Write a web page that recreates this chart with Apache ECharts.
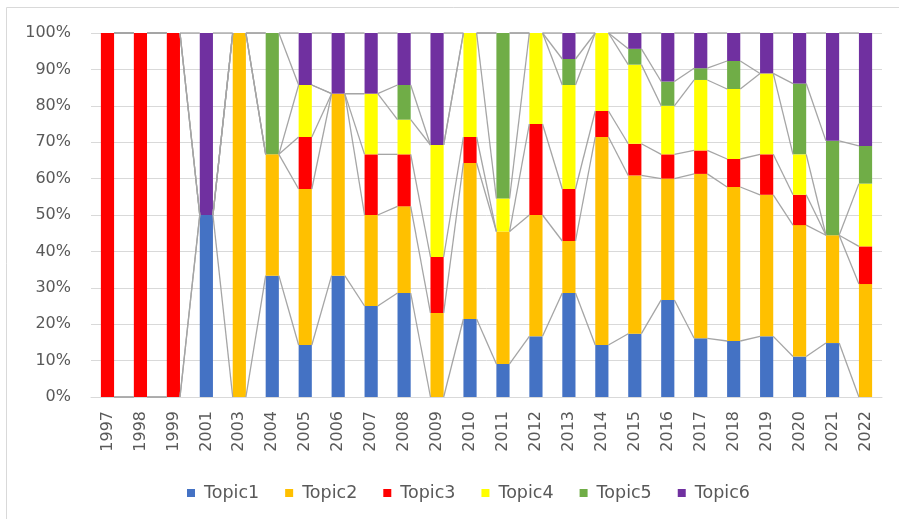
<!DOCTYPE html>
<html>
<head>
<meta charset="utf-8">
<script src="https://cdn.jsdelivr.net/npm/echarts@6/dist/echarts.min.js"></script>
<style>
  html, body { margin: 0; padding: 0; background: #fff; }
  #main { width: 899px; height: 519px; }
</style>
</head>
<body>
<div id="main"></div>
<script>
// years on the x axis
var years = ['1997', '1998', '1999', '2001', '2003', '2004', '2005', '2006', '2007', '2008',
  '2009', '2010', '2011', '2012', '2013', '2014', '2015', '2016', '2017', '2018',
  '2019', '2020', '2021', '2022'];

// counts per topic and year
var topic1 = [0, 0, 0, 1, 0, 1, 1, 2, 3, 6, 0, 3, 1, 2, 4, 2, 4, 4, 5, 4, 3, 4, 4, 0];
var topic2 = [0, 0, 0, 0, 1, 1, 3, 3, 3, 5, 3, 6, 4, 4, 2, 8, 10, 5, 14, 11, 7, 13, 8, 9];
var topic3 = [1, 1, 1, 0, 0, 0, 1, 0, 2, 3, 2, 1, 0, 3, 2, 1, 2, 1, 2, 2, 2, 3, 0, 3];
var topic4 = [0, 0, 0, 0, 0, 0, 1, 0, 2, 2, 4, 4, 1, 3, 4, 3, 5, 2, 6, 5, 4, 4, 0, 5];
var topic5 = [0, 0, 0, 0, 0, 1, 0, 0, 0, 2, 0, 0, 5, 0, 1, 0, 1, 1, 1, 2, 0, 7, 7, 3];
var topic6 = [0, 0, 0, 1, 0, 0, 1, 1, 2, 3, 4, 0, 0, 0, 1, 0, 1, 2, 3, 2, 2, 5, 8, 9];

var names = ['Topic1', 'Topic2', 'Topic3', 'Topic4', 'Topic5', 'Topic6'];
var colors = ['#4472C4', '#FFC000', '#FF0000', '#FFFF00', '#70AD47', '#7030A0'];
var topics = [topic1, topic2, topic3, topic4, topic5, topic6];

var font = 'DejaVu Sans';

// totals and percentages
var totals = years.map(function (y, i) {
  var s = 0;
  topics.forEach(function (t) { s += t[i]; });
  return s;
});
var pcts = topics.map(function (t) {
  return t.map(function (v, i) { return v / totals[i] * 100; });
});

// cumulative tops for the series lines
var cum = [];
var run = years.map(function () { return 0; });
pcts.forEach(function (p) {
  run = run.map(function (r, i) { return r + p[i]; });
  cum.push(run.slice());
});
var lineData = [];
cum.forEach(function (c) {
  for (var i = 0; i < years.length - 1; i++) {
    lineData.push([i, c[i], c[i + 1]]);
  }
});

var myChart = echarts.init(document.getElementById('main'));

var series = names.map(function (n, k) {
  return {
    name: n,
    type: 'bar',
    stack: 'all',
    barWidth: '40%',
    itemStyle: { color: colors[k] },
    data: pcts[k]
  };
});

// series lines between neighbouring bars
series.push({
  type: 'custom',
  z: 5,
  silent: true,
  data: lineData,
  renderItem: function (params, api) {
    var i = api.value(0);
    var p0 = api.coord([i, api.value(1)]);
    var p1 = api.coord([i + 1, api.value(2)]);
    var half = api.size([1, 0])[0] * 0.2;
    return {
      type: 'line',
      shape: { x1: p0[0] + half, y1: p0[1], x2: p1[0] - half, y2: p1[1] },
      style: { stroke: '#A5A5A5', lineWidth: 1.3 }
    };
  }
});

var option = {
  animation: false,
  graphic: [{
    type: 'rect',
    shape: { x: 6.5, y: 7.5, width: 900, height: 520 },
    style: { fill: 'none', stroke: '#D9D9D9', lineWidth: 1 },
    silent: true
  }],
  legend: {
    data: names,
    left: 182,
    top: 479,
    itemWidth: 8,
    itemHeight: 8,
    itemGap: 26,
    icon: 'rect',
    textStyle: {
      fontFamily: font,
      fontSize: 17.5,
      color: '#595959',
      padding: [0, 0, 0, 4]
    }
  },
  grid: {
    left: 91,
    right: 17,
    top: 33,
    bottom: 122
  },
  xAxis: {
    type: 'category',
    data: years,
    axisTick: { show: false },
    axisLine: { lineStyle: { color: '#D9D9D9', width: 1 } },
    axisLabel: {
      rotate: 90,
      margin: 14,
      fontFamily: font,
      fontSize: 16,
      color: '#595959'
    }
  },
  yAxis: {
    type: 'value',
    min: 0,
    max: 100,
    interval: 10,
    axisLine: { show: false },
    axisTick: { show: false },
    splitLine: { lineStyle: { color: '#D9D9D9', width: 1 } },
    axisLabel: {
      formatter: '{value}%',
      margin: 20,
      fontFamily: font,
      fontSize: 16,
      color: '#595959'
    }
  },
  series: series
};

myChart.setOption(option);
</script>
</body>
</html>
